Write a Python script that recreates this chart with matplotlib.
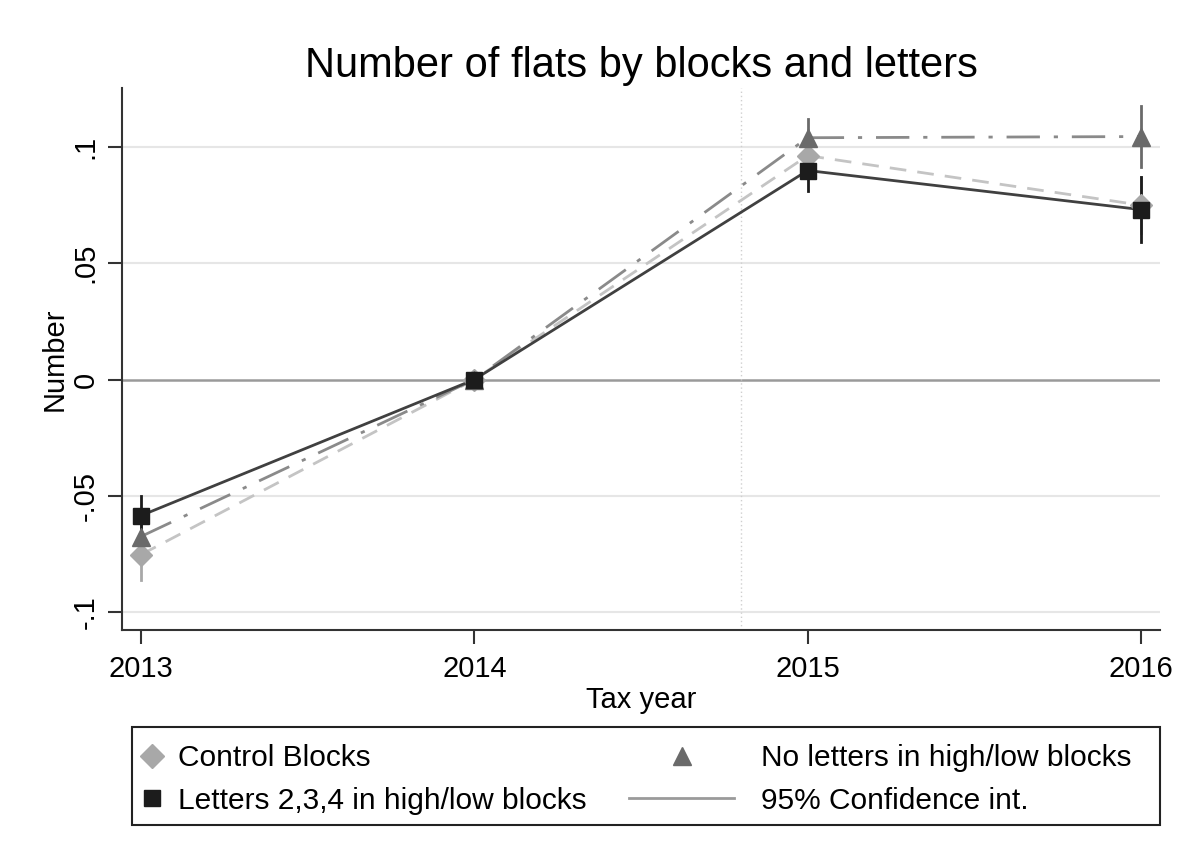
import matplotlib.pyplot as plt
from matplotlib.lines import Line2D
from matplotlib.patches import Rectangle

plt.rcParams["font.family"] = ["Liberation Sans", "DejaVu Sans"]

years = [2013, 2014, 2015, 2016]

control = [-0.0753, 0.0, 0.0963, 0.0750]
control_ci = [0.011, 0.0, 0.008, 0.012]

no_letters = [-0.0675, 0.0, 0.1040, 0.1045]
no_letters_ci = [0.008, 0.0, 0.008, 0.013]

letters = [-0.0585, 0.0, 0.0899, 0.0731]
letters_ci = [0.0085, 0.0, 0.009, 0.014]

ytick_vals = [-0.1, -0.05, 0, 0.05, 0.1]
ytick_labels = ["-.1", "-.05", "0", ".05", ".1"]

fig = plt.figure(figsize=(11.81, 8.59), dpi=100)
ax = fig.add_axes([0.1033, 0.2666, 0.8789, 0.631])

# grid and reference lines
for v in ytick_vals:
    if v != 0:
        ax.axhline(v, color="#e6e6e6", lw=1.5, zorder=0)
ax.axhline(0, color="#9a9a9a", lw=1.8, zorder=1)
ax.axvline(2014.8, color="#cfcfcf", lw=1, ls=(0, (1, 2)), zorder=1)

series = [
    (control, control_ci, "#a8a8a8", "#c4c4c4", (0, (6, 4)), "D", 11),
    (no_letters, no_letters_ci, "#6a6a6a", "#8a8a8a", (0, (12, 5, 1.5, 5)), "^", 13),
    (letters, letters_ci, "#1c1c1c", "#404040", "-", "s", 12),
]

for vals, ci, mcol, lcol, ls, mk, ms in series:
    for x, v, c in zip(years, vals, ci):
        if c > 0:
            ax.plot([x, x], [v - c, v + c], color=mcol, lw=2, zorder=2)
    ax.plot(years, vals, color=lcol, lw=2, ls=ls, zorder=3)
    ax.plot(years, vals, ls="none", marker=mk, color=mcol, ms=ms, zorder=4)

ax.set_xlim(2012.943, 2016.057)
ax.set_ylim(-0.1077, 0.1254)
ax.set_xticks(years)
ax.set_xticklabels([str(y) for y in years], fontsize=21)
ax.set_yticks(ytick_vals)
ax.set_yticklabels(ytick_labels, fontsize=21, rotation=90, va="center")
ax.tick_params(direction="out", length=10, width=1.5, color="#333333")
ax.tick_params(axis="x", pad=8)
ax.tick_params(axis="y", pad=6)
ax.set_xlabel("Tax year", fontsize=21, labelpad=2)
ax.set_ylabel("Number", fontsize=21, labelpad=2)
ax.spines["top"].set_visible(False)
ax.spines["right"].set_visible(False)
for s in ["left", "bottom"]:
    ax.spines[s].set_linewidth(1.5)
    ax.spines[s].set_color("#333333")
ax.set_title("Number of flats by blocks and letters", fontsize=30, pad=8)

# legend: box with two columns of keys
fig.patches.append(Rectangle((0.1118, 0.0396), 0.8704, 0.1141, transform=fig.transFigure,
                             fill=False, edgecolor="#222222", lw=1.5))

left_handles = [
    Line2D([], [], ls="none", marker="D", color="#a8a8a8", ms=12),
    Line2D([], [], ls="none", marker="s", color="#1c1c1c", ms=12),
]
left_labels = ["Control Blocks", "Letters 2,3,4 in high/low blocks"]
right_handles = [
    Line2D([], [], ls="none", marker="^", color="#6a6a6a", ms=13),
    Line2D([], [], color="#9a9a9a", lw=2),
]
right_labels = ["No letters in high/low blocks", "95% Confidence int."]

leg_kw = dict(fontsize=21.5, frameon=False, borderpad=0, borderaxespad=0,
              labelspacing=0.48, loc="center left")
leg1 = fig.legend(left_handles, left_labels, handlelength=0.9, handletextpad=0.42,
                  bbox_to_anchor=(0.1175, 0.0925), **leg_kw)
leg2 = fig.legend(right_handles, right_labels, handlelength=3.5, handletextpad=0.92,
                  bbox_to_anchor=(0.533, 0.0925), **leg_kw)

fig.savefig("out.png", dpi=100)
